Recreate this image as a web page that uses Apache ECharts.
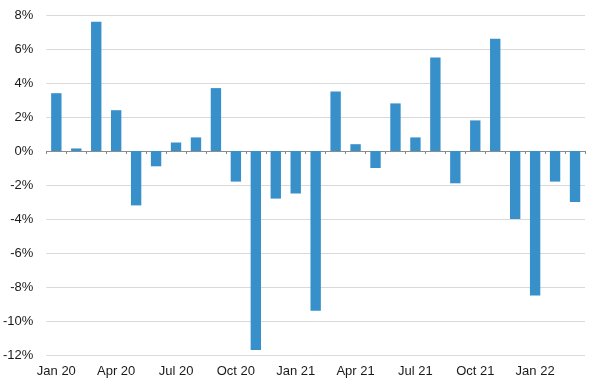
<!DOCTYPE html>
<html><head><meta charset="utf-8">
<script src="https://cdn.jsdelivr.net/npm/echarts@6/dist/echarts.min.js"></script>
<style>html,body{margin:0;padding:0;background:#fff}#c{width:593px;height:385px}</style>
</head><body><div id="c"></div>
<script>
const categories = ['Jan 20','Feb 20','Mar 20','Apr 20','May 20','Jun 20','Jul 20','Aug 20','Sep 20','Oct 20','Nov 20','Dec 20',
  'Jan 21','Feb 21','Mar 21','Apr 21','May 21','Jun 21','Jul 21','Aug 21','Sep 21','Oct 21','Nov 21','Dec 21',
  'Jan 22','Feb 22','Mar 22'];
const values = [3.4, 0.15, 7.6, 2.4, -3.2, -0.9, 0.5, 0.8, 3.7, -1.8, -11.7, -2.8,
  -2.5, -9.4, 3.5, 0.4, -1.0, 2.8, 0.8, 5.5, -1.9, 1.8, 6.6, -4.0,
  -8.5, -1.8, -3.0];
const yTicks = [-12, -10, -8, -6, -4, -2, 0, 2, 4, 6, 8];

const chart = echarts.init(document.getElementById('c'));
const font = 'Liberation Sans, Arial, sans-serif';
chart.setOption({
  animation: false,
  grid: {left: 40, right: 8, top: 15, bottom: 30},
  xAxis: [{
    type: 'category', data: categories,
    axisLine: {onZero: true, lineStyle: {color: '#8c8c8c', width: 1}},
    axisTick: {show: true, interval: 0, length: 3, lineStyle: {color: '#8c8c8c'}},
    axisLabel: {show: false}
  }, {
    type: 'category', data: categories, position: 'bottom',
    axisLine: {show: false, onZero: false}, axisTick: {show: false},
    axisLabel: {interval: 2, color: '#1a1a1a', fontSize: 13, fontFamily: font, margin: 10}
  }],
  yAxis: {
    type: 'value', min: yTicks[0], max: yTicks[yTicks.length-1], interval: 2,
    axisLine: {show: false}, axisTick: {show: false},
    splitLine: {lineStyle: {color: '#d9d9d9', width: 1}},
    axisLabel: {formatter: v => v + '%', color: '#1a1a1a', fontSize: 13, fontFamily: font, margin: 13}
  },
  series: [{
    type: 'bar', data: values, xAxisIndex: 0, barWidth: '52%',
    itemStyle: {color: '#3790c9'}
  }]
});
</script></body></html>
